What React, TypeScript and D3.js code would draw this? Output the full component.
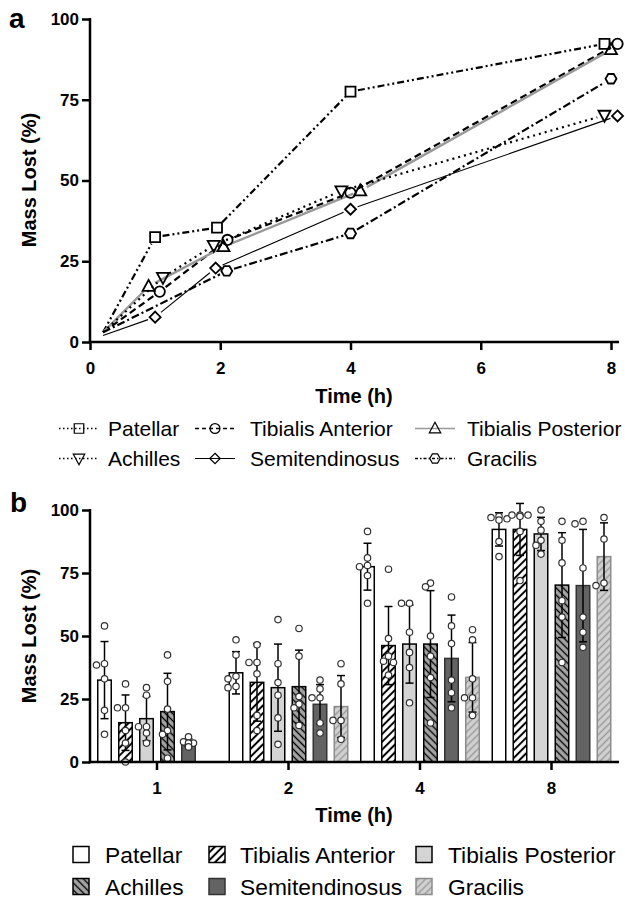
import React, { useEffect, useRef } from "react";
import * as d3 from "d3";

const series = ["Patellar", "Tibialis Anterior", "Tibialis Posterior", "Achilles", "Semitendinosus", "Gracilis"];
const timeLabels = ["1", "2", "4", "8"];
const timeTicks = [0, 2, 4, 6, 8];
const massTicks = [0, 25, 50, 75, 100];

// panel a: sampling times (nudged like the figure) and mean mass lost (%)
const patellarT = [0.2, 1.0, 1.95, 4.0, 7.9];
const patellarY = [3, 32.5, 35.4, 77.5, 92.3];
const tibAntT = [0.2, 1.07, 2.11, 4.0, 8.1];
const tibAntY = [3, 15.6, 31.6, 46.2, 92.3];
const tibPostT = [0.2, 0.9, 2.05, 4.15, 8.0];
const tibPostY = [3, 17.2, 29.5, 46.8, 90.5];
const achillesT = [0.2, 1.12, 1.9, 3.86, 7.9];
const achillesY = [3, 20, 29.9, 46.8, 70.2];
const semiT = [0.2, 1.0, 1.93, 4.0, 8.1];
const semiY = [2, 7.7, 22.9, 41.1, 70];
const gracilisT = [0.2, 2.1, 4.0, 8.0];
const gracilisY = [3, 22, 33.6, 81.5];

// panel b: mean, SD and single samples at 1, 2, 4, 8 h
const patellarMean = [32.5, 35.4, 77.5, 92.3];
const patellarSd = [15.3, 8.4, 9.3, 6.6];
const patellarPts = [[54, 39, 38.5, 33, 20.5, 11], [48.5, 42.5, 34, 33, 30, 29.5], [91.5, 81, 78, 77.5, 74, 63], [97.5, 97, 96.5, 96, 87.5, 81.5]];
const tibAntMean = [15.6, 31.6, 46.2, 92.3];
const tibAntSd = [11, 15.4, 15.5, 10.3];
const tibAntPts = [[31, 21.5, 21.5, 12.5, 7.5, 0], [46.5, 39.5, 39.5, 35, 18.5, 12.5], [76.5, 49, 42, 40, 39.5, 34.5], [98, 98, 98, 97.5, 91.5, 72]];
const tibPostMean = [17.2, 29.5, 46.8, 90.5];
const tibPostSd = [8.8, 17.3, 15.5, 6.6];
const tibPostPts = [[29.5, 26.5, 14, 14, 11.5, 7.5], [56.5, 39, 31.5, 26.5, 17.5, 7], [63, 63, 51.5, 43.5, 37.5, 23.5], [100, 95.5, 92, 88, 86, 82.5]];
const achillesMean = [20, 29.9, 46.8, 70.2];
const achillesSd = [15.2, 14.5, 21.2, 20.8];
const achillesPts = [[42.5, 32, 21, 12.5, 11, 1.5], [53, 42, 26, 23, 21.5, 14.5], [71, 69.5, 50, 42, 33.5, 15.5], [95.5, 88, 79, 64, 57.5, 39.5]];
const semiMean = [7.7, 22.9, 41.1, 70];
const semiSd = [1.5, 7.8, 17.2, 22.3];
const semiPts = [[10, 8, 7.5, 7.5, 6], [32.5, 29, 25.5, 25.5, 15.5, 11.5], [65.5, 54, 47, 32.5, 27.5, 21.5], [95.5, 94.5, 77, 57.5, 51.5, 45.5]];
const gracilisMean = [null, 22, 33.6, 81.5];
const gracilisSd = [null, 12.3, 13.8, 13.4];
const gracilisPts = [[], [39, 31, 16.5, 16.5, 9], [52.5, 48.5, 33, 25.5, 25.5, 18.5], [97, 88.5, 71, 70]];

const FONT = "'Liberation Sans', Arial, sans-serif";

function markerPath(type: string) {
  switch (type) {
    case "square": return "M-5,-5H5V5H-5Z";
    case "circle": return "M5.2,0A5.2,5.2 0 1,1 -5.2,0A5.2,5.2 0 1,1 5.2,0Z";
    case "triangle": return "M0,-6.5L6,4.5L-6,4.5Z";
    case "triangleDown": return "M0,6.5L6,-4.5L-6,-4.5Z";
    case "diamond": return "M0,-5.5L5.5,0L0,5.5L-5.5,0Z";
    default: {
      const pts = d3.range(6).map(i => [5.5 * Math.cos(i * Math.PI / 3), 5.5 * Math.sin(i * Math.PI / 3)]);
      return "M" + pts.map(p => p.join(",")).join("L") + "Z";
    }
  }
}

export default function App() {
  const ref = useRef<SVGSVGElement>(null);

  useEffect(() => {
    const svg = d3.select(ref.current);
    svg.selectAll("*").remove();

    const lineSeries = [
      { name: series[0], t: patellarT, v: patellarY, dash: "7,3,2,3,2,3", leg: "1.5,2.5", color: "#000", width: 2.2, marker: "square" },
      { name: series[1], t: tibAntT, v: tibAntY, dash: "7,4", leg: "4,3", color: "#000", width: 2.2, marker: "circle" },
      { name: series[2], t: tibPostT, v: tibPostY, dash: null, leg: null, color: "#999", width: 2.4, marker: "triangle" },
      { name: series[3], t: achillesT, v: achillesY, dash: "2,4", leg: "1.5,2.5", color: "#000", width: 2.2, marker: "triangleDown" },
      { name: series[4], t: semiT, v: semiY, dash: null, leg: null, color: "#000", width: 1.1, marker: "diamond" },
      { name: series[5], t: gracilisT, v: gracilisY, dash: "8,3,2,3", leg: "3,2,1.5,2", color: "#000", width: 2.2, marker: "hexagon" },
    ];

    // ---------- panel a ----------
    const xA = d3.scaleLinear().domain([0, 8]).range([90, 611]);
    const yA = d3.scaleLinear().domain([0, 100]).range([342, 19]);
    const gap = 7.5;

    const lines = svg.append("g");
    lineSeries.forEach(s => {
      const p = s.t.map((t, i) => [xA(t), yA(s.v[i])]);
      for (let i = 0; i < p.length - 1; i++) {
        const [x0, y0] = p[i], [x1, y1] = p[i + 1];
        const len = Math.hypot(x1 - x0, y1 - y0);
        const ux = (x1 - x0) / len, uy = (y1 - y0) / len;
        const a = i === 0 ? 0 : gap;
        lines.append("path")
          .attr("d", d3.line()([[x0 + ux * a, y0 + uy * a], [x1 - ux * gap, y1 - uy * gap]]))
          .attr("fill", "none")
          .attr("stroke", s.color)
          .attr("stroke-width", s.width)
          .attr("stroke-dasharray", s.dash);
      }
    });
    const marks = svg.append("g");
    lineSeries.forEach(s => {
      s.t.forEach((t, i) => {
        if (i === 0) return;
        marks.append("path")
          .attr("d", markerPath(s.marker))
          .attr("transform", `translate(${xA(t)},${yA(s.v[i])})`)
          .attr("fill", "none")
          .attr("stroke", "#000")
          .attr("stroke-width", 1.8);
      });
    });

    const axA = svg.append("g").attr("font-family", FONT);
    const xAxA = axA.append("g").attr("transform", "translate(0,342)")
      .call(d3.axisBottom(xA).tickValues(timeTicks).tickSize(8).tickPadding(12).tickSizeOuter(0));
    const yAxA = axA.append("g").attr("transform", "translate(90,0)")
      .call(d3.axisLeft(yA).tickValues(massTicks).tickSize(8).tickPadding(3).tickSizeOuter(0));
    [xAxA, yAxA].forEach(g => {
      g.select(".domain").remove();
      g.selectAll("line").attr("stroke", "#000").attr("stroke-width", 2.5);
      g.selectAll("text").attr("font-size", 17).attr("font-weight", "bold").attr("fill", "#000").attr("font-family", FONT);
    });
    axA.append("line").attr("x1", 88.75).attr("x2", 619).attr("y1", 342).attr("y2", 342).attr("stroke", "#000").attr("stroke-width", 2.5);
    axA.append("line").attr("x1", 90).attr("x2", 90).attr("y1", 18).attr("y2", 343.25).attr("stroke", "#000").attr("stroke-width", 2.5);
    axA.append("text").attr("x", 354).attr("y", 403).attr("text-anchor", "middle")
      .attr("font-size", 20).attr("font-weight", "bold").text("Time (h)");
    axA.append("text").attr("transform", "translate(36,180) rotate(-90)").attr("text-anchor", "middle")
      .attr("font-size", 20).attr("font-weight", "bold").text("Mass Lost (%)");
    axA.append("text").attr("x", 9).attr("y", 28).attr("font-size", 28).attr("font-weight", "bold").text("a");

    // legend a
    const legCx = [79, 215, 435], legTx = [108, 250, 467], legBase = [436, 466];
    const legA = svg.append("g").attr("font-family", FONT);
    lineSeries.forEach((s, i) => {
      const cx = legCx[i % 3], cy = legBase[Math.floor(i / 3)] - 7.5;
      legA.append("line").attr("x1", cx - 20).attr("x2", cx + 20).attr("y1", cy).attr("y2", cy)
        .attr("stroke", s.color).attr("stroke-width", Math.min(s.width, 1.5))
        .attr("stroke-dasharray", s.leg);
      legA.append("path").attr("d", markerPath(s.marker)).attr("transform", `translate(${cx},${cy}) scale(0.95)`)
        .attr("fill", "none").attr("stroke", "#000").attr("stroke-width", 1.3);
      legA.append("text").attr("x", legTx[i % 3]).attr("y", legBase[Math.floor(i / 3)])
        .attr("font-size", 21).attr("fill", "#000").text(s.name);
    });

    // ---------- panel b ----------
    const defs = svg.append("defs");
    const hatch = (id: string, bg: string, fg: string, w: number, step: number, angle: number) => {
      const p = defs.append("pattern").attr("id", id).attr("patternUnits", "userSpaceOnUse")
        .attr("width", step).attr("height", step).attr("patternTransform", `rotate(${angle})`);
      p.append("rect").attr("width", step).attr("height", step).attr("fill", bg);
      p.append("line").attr("x1", step / 2).attr("x2", step / 2).attr("y1", -1).attr("y2", step + 1)
        .attr("stroke", fg).attr("stroke-width", w);
    };
    hatch("hTA", "#fff", "#000", 2, 5.5, 45);
    hatch("hAch", "#a6a6a6", "#000", 1.4, 5, -45);
    hatch("hGra", "#d2d2d2", "#9a9a9a", 1.5, 5, 45);

    const barSeries = [
      { name: series[0], mean: patellarMean, sd: patellarSd, pts: patellarPts, fill: "#fff", stroke: "#000" },
      { name: series[1], mean: tibAntMean, sd: tibAntSd, pts: tibAntPts, fill: "url(#hTA)", stroke: "#000" },
      { name: series[2], mean: tibPostMean, sd: tibPostSd, pts: tibPostPts, fill: "#d4d4d4", stroke: "#000" },
      { name: series[3], mean: achillesMean, sd: achillesSd, pts: achillesPts, fill: "url(#hAch)", stroke: "#000" },
      { name: series[4], mean: semiMean, sd: semiSd, pts: semiPts, fill: "#636363", stroke: "#333" },
      { name: series[5], mean: gracilisMean, sd: gracilisSd, pts: gracilisPts, fill: "url(#hGra)", stroke: "#8c8c8c" },
    ];

    const xB = d3.scaleBand().domain(timeLabels).range([91.25, 617.25]);
    const xIn = d3.scaleBand().domain(series).range([-63, 63]).paddingInner(0.357).paddingOuter(0.1785);
    const yB = d3.scaleLinear().domain([0, 100]).range([762, 510]);
    const bw = xIn.bandwidth();

    const bars = svg.append("g");
    barSeries.forEach(s => {
      timeLabels.forEach((tl, j) => {
        const m = s.mean[j];
        if (m == null) return;
        const cx = xB(tl)! + xB.bandwidth() / 2 + xIn(s.name)! + bw / 2;
        bars.append("rect").attr("x", cx - bw / 2).attr("y", yB(m)).attr("width", bw).attr("height", yB(0) - yB(m))
          .attr("fill", s.fill).attr("stroke", s.stroke).attr("stroke-width", 1.5);
      });
    });
    const errs = svg.append("g").attr("stroke", "#000").attr("stroke-width", 1.5);
    barSeries.forEach(s => {
      timeLabels.forEach((tl, j) => {
        const m = s.mean[j], sd = s.sd[j];
        if (m == null || sd == null) return;
        const cx = xB(tl)! + xB.bandwidth() / 2 + xIn(s.name)! + bw / 2;
        const lo = Math.max(0, m - sd), hi = m + sd;
        errs.append("line").attr("x1", cx).attr("x2", cx).attr("y1", yB(lo)).attr("y2", yB(hi));
        errs.append("line").attr("x1", cx - 4).attr("x2", cx + 4).attr("y1", yB(hi)).attr("y2", yB(hi));
        if (m - sd > 0) errs.append("line").attr("x1", cx - 4).attr("x2", cx + 4).attr("y1", yB(lo)).attr("y2", yB(lo));
      });
    });
    const dots = svg.append("g");
    barSeries.forEach(s => {
      timeLabels.forEach((tl, j) => {
        const cx = xB(tl)! + xB.bandwidth() / 2 + xIn(s.name)! + bw / 2;
        const placed: number[][] = [];
        [...s.pts[j]].sort((a, b) => b - a).forEach(v => {
          const y = yB(v);
          const off = [0, -5, 5, -8, 8].find(o => placed.every(([px, py]) => Math.hypot(px - (cx + o), py - y) > 6.2)) ?? 0;
          placed.push([cx + off, y]);
        });
        placed.forEach(([x, y]) => {
          dots.append("circle").attr("cx", x).attr("cy", y).attr("r", 3.2)
            .attr("fill", "#fff").attr("stroke", "#333").attr("stroke-width", 1.2);
        });
      });
    });

    const axB = svg.append("g").attr("font-family", FONT);
    const xAxB = axB.append("g").attr("transform", "translate(0,762)")
      .call(d3.axisBottom(xB).tickSize(8).tickPadding(12).tickSizeOuter(0));
    const yAxB = axB.append("g").attr("transform", "translate(90,0)")
      .call(d3.axisLeft(yB).tickValues(massTicks).tickSize(8).tickPadding(3).tickSizeOuter(0));
    [xAxB, yAxB].forEach(g => {
      g.select(".domain").remove();
      g.selectAll("line").attr("stroke", "#000").attr("stroke-width", 2.5);
      g.selectAll("text").attr("font-size", 17).attr("font-weight", "bold").attr("fill", "#000").attr("font-family", FONT);
    });
    axB.append("line").attr("x1", 88.75).attr("x2", 619).attr("y1", 762).attr("y2", 762).attr("stroke", "#000").attr("stroke-width", 2.5);
    axB.append("line").attr("x1", 90).attr("x2", 90).attr("y1", 509).attr("y2", 763.25).attr("stroke", "#000").attr("stroke-width", 2.5);
    axB.append("text").attr("x", 354).attr("y", 822).attr("text-anchor", "middle")
      .attr("font-size", 20).attr("font-weight", "bold").text("Time (h)");
    axB.append("text").attr("transform", "translate(36,636) rotate(-90)").attr("text-anchor", "middle")
      .attr("font-size", 20).attr("font-weight", "bold").text("Mass Lost (%)");
    axB.append("text").attr("x", 10).attr("y", 512).attr("font-size", 28).attr("font-weight", "bold").text("b");

    // legend b
    const sqX = [73, 209, 416], txB = [105, 240, 448], baseB = [863, 895];
    const legB = svg.append("g").attr("font-family", FONT);
    barSeries.forEach((s, i) => {
      const row = Math.floor(i / 3), col = i % 3;
      legB.append("rect").attr("x", sqX[col]).attr("y", baseB[row] - 16.5).attr("width", 16).attr("height", 16)
        .attr("fill", s.fill).attr("stroke", s.stroke).attr("stroke-width", 1.5);
      legB.append("text").attr("x", txB[col]).attr("y", baseB[row]).attr("font-size", 22.8).attr("fill", "#000").text(s.name);
    });
  }, []);

  return (
    <svg ref={ref} width={625} height={899}
      style={{ position: "absolute", left: 0, top: 0, background: "#fff" }} />
  );
}
